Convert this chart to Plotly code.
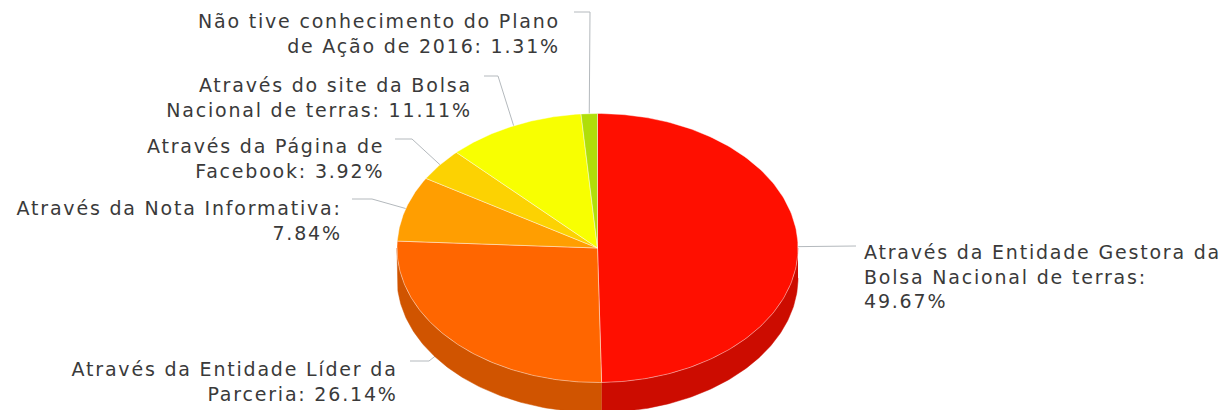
import numpy as np
import plotly.graph_objects as go

# Share of answers per information channel, in percent
categories = [
    "Através da Entidade Gestora da<br>Bolsa Nacional de terras",
    "Através da Entidade Líder da<br>Parceria",
    "Através da Nota Informativa",
    "Através da Página de<br>Facebook",
    "Através do site da Bolsa<br>Nacional de terras",
    "Não tive conhecimento do Plano<br>de Ação de 2016",
]
values = [49.67, 26.14, 7.84, 3.92, 11.11, 1.31]
colors = ["#FF0F00", "#FF6600", "#FF9E01", "#FCD202", "#F8FF01", "#B0DE09"]
wall_colors = ["#CC0C00", "#D05400", "#CC7E01", "#CAA802", "#C6CC01", "#8DB207"]

# Label text layout: separator after the name, anchor point, alignment, leader elbow
separators = [":<br>", ": ", ":<br>", ": ", ": ", ": "]
label_x = [862, 400, 344, 386, 474, 562]
label_y = [276, 381, 220, 158, 97, 33]
label_side = ["left", "right", "right", "right", "right", "right"]
elbow_x = [[856, 800], [410, 429], [352, 372], [395, 412], [484, 498], [574, 590]]
elbow_y = [246, 361, 199, 139, 76, 12]

# Projected pie geometry in page pixels
CX, CY = 597.5, 248.0
RX, RY = 200.5, 134.5
DEPTH = 30.0
FONT_SIZE = 19
LETTER_SPACING = "1.8px"


def rim(deg):
    """Point on the top ellipse; 0 degrees is at 12 o'clock, running clockwise."""
    a = np.radians(deg)
    return CX + RX * np.sin(a), CY - RY * np.cos(a)


total = sum(values)
edges = np.concatenate([[0.0], np.cumsum(values)]) / total * 360.0
fig = go.Figure()

# Leader lines sit underneath the pie body
for i in range(len(values)):
    mx, my = rim((edges[i] + edges[i + 1]) / 2)
    fig.add_trace(go.Scatter(
        x=[elbow_x[i][0], elbow_x[i][1], mx],
        y=[elbow_y[i], elbow_y[i], my],
        mode="lines",
        line=dict(color="#b4b9bd", width=1),
        hoverinfo="skip",
    ))

# Side wall: only the part of each slice facing the viewer
for i in range(len(values)):
    start, end = max(edges[i], 90.0), min(edges[i + 1], 270.0)
    if end <= start:
        continue
    x, y = rim(np.linspace(start, end, 120))
    fig.add_trace(go.Scatter(
        x=np.concatenate([x, x[::-1]]),
        y=np.concatenate([y, y[::-1] + DEPTH]),
        mode="lines",
        fill="toself",
        fillcolor=wall_colors[i],
        line=dict(color=wall_colors[i], width=0.5),
        hoverinfo="skip",
    ))

# Top face of each slice, with a pale outline along its edges
for i in range(len(values)):
    x, y = rim(np.linspace(edges[i], edges[i + 1], 160))
    fig.add_trace(go.Scatter(
        x=np.concatenate([[CX], x, [CX]]),
        y=np.concatenate([[CY], y, [CY]]),
        mode="lines",
        fill="toself",
        fillcolor=colors[i],
        line=dict(color="rgba(255,255,255,0.42)", width=1),
        hoverinfo="skip",
    ))

annotations = [
    dict(
        x=label_x[i], y=label_y[i], xref="x", yref="y",
        text=f"{categories[i]}{separators[i]}{values[i]:.2f}%",
        showarrow=False, align=label_side[i], xanchor=label_side[i], yanchor="middle",
        font=dict(family="DejaVu Sans", size=FONT_SIZE, color="#3a3a3a"),
    )
    for i in range(len(values))
]

fig.update_layout(
    width=1230, height=410,
    margin=dict(l=0, r=0, t=0, b=0),
    paper_bgcolor="white", plot_bgcolor="white",
    showlegend=False,
    annotations=annotations,
    xaxis=dict(range=[0, 1230], visible=False, fixedrange=True),
    yaxis=dict(range=[410, 0], visible=False, fixedrange=True),
)

# Plotly has no letter-spacing attribute, so it is applied once the labels are drawn
widen_labels = (
    "document.querySelectorAll('.annotation-text').forEach("
    f"function(t){{t.style.letterSpacing='{LETTER_SPACING}';}});"
)
fig.write_html("out.html", config={"displayModeBar": False}, post_script=widen_labels)
